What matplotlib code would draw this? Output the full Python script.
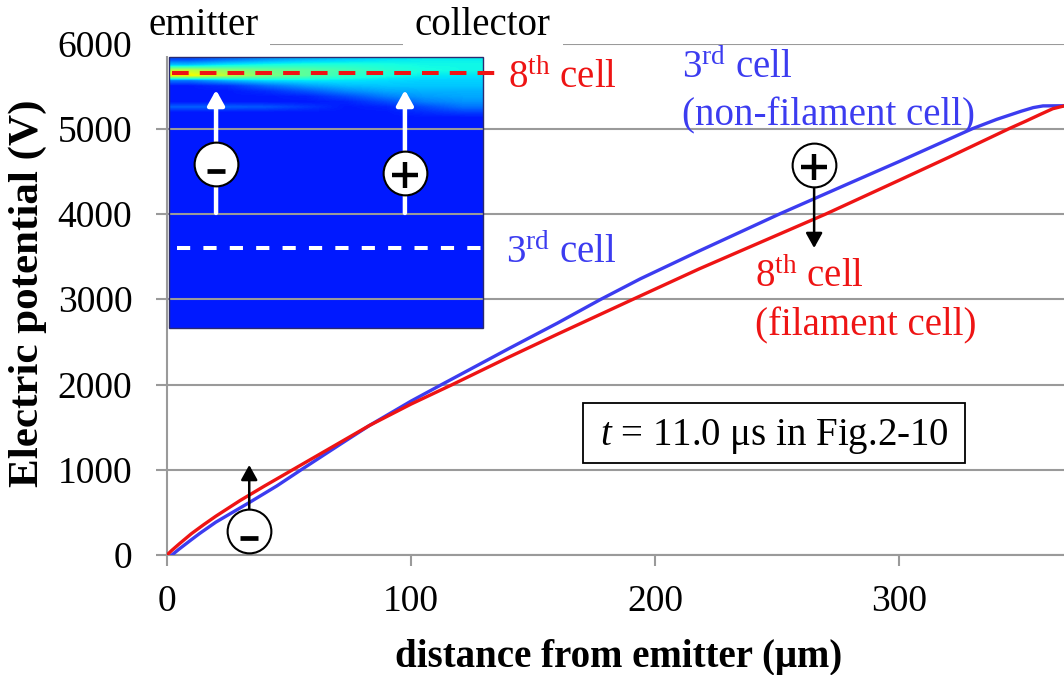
import numpy as np
import matplotlib
matplotlib.use('Agg')
import matplotlib.pyplot as plt
from matplotlib import transforms
from matplotlib.patches import Rectangle

plt.rcParams['font.family'] = ['Liberation Serif', 'DejaVu Serif']
plt.rcParams['mathtext.fontset'] = 'custom'
plt.rcParams['mathtext.rm'] = 'Liberation Serif'
plt.rcParams['mathtext.it'] = 'Liberation Serif:italic'
plt.rcParams['lines.scale_dashes'] = False

# potential along the 8th cell (filament cell)
dist_8th = [0, 2, 5, 10, 15, 20, 30, 40, 50, 60, 70, 83, 100, 117, 140, 160, 191, 218,
            245, 270, 300, 320, 345, 352, 358, 363, 368]
pot_8th = [0, 55, 130, 250, 355, 455, 640, 810, 975, 1140, 1305, 1520, 1770, 2000, 2320,
           2590, 3000, 3355, 3690, 4000, 4395, 4660, 5000, 5090, 5170, 5235, 5270]

# potential along the 3rd cell (non-filament cell)
dist_3rd = [2, 5, 10, 13.5, 20, 34, 45, 55, 70, 83, 100, 112.6, 140, 160, 177.5, 194, 218,
            251, 280, 300, 330, 340, 350, 355, 359, 368]
pot_3rd = [0, 70, 180, 255, 385, 620, 810, 1000, 1280, 1520, 1805, 2000, 2420, 2720, 2995,
           3240, 3565, 4000, 4365, 4615, 5000, 5110, 5205, 5248, 5268, 5270]

x_ticks = [0, 100, 200, 300]
y_ticks = [0, 1000, 2000, 3000, 4000, 5000, 6000]

# contour snapshot (jet scale 0..1), top strip of the inset, rows top -> bottom
field_top = [
    [0.20, 0.24, 0.28, 0.31, 0.33, 0.35, 0.36, 0.36],
    [0.32, 0.36, 0.38, 0.39, 0.39, 0.38, 0.37, 0.37],
    [0.58, 0.52, 0.48, 0.46, 0.43, 0.40, 0.38, 0.37],
    [0.66, 0.58, 0.50, 0.46, 0.41, 0.38, 0.36, 0.35],
    [0.24, 0.30, 0.34, 0.35, 0.35, 0.34, 0.33, 0.33],
    [0.15, 0.17, 0.23, 0.28, 0.31, 0.32, 0.32, 0.32],
    [0.15, 0.15, 0.17, 0.21, 0.26, 0.29, 0.30, 0.30],
    [0.15, 0.15, 0.15, 0.16, 0.20, 0.25, 0.28, 0.29],
    [0.15, 0.15, 0.15, 0.15, 0.16, 0.20, 0.25, 0.27],
    [0.22, 0.22, 0.21, 0.18, 0.15, 0.16, 0.20, 0.24],
    [0.15, 0.15, 0.15, 0.15, 0.15, 0.15, 0.17, 0.19],
    [0.15, 0.15, 0.15, 0.15, 0.15, 0.15, 0.15, 0.15],
]
field_base = 0.15
inset_x = (0.9, 129.7)
inset_v = (2659, 5100, 5838)  # bottom, end of strip, top

cell8_v = 5650
cell3_v = 3600
carrier_x = [20.1, 97.5]
carrier_v = [4587, 4485]
carrier_sign = ['-', '+']

RED = '#ee1414'
BLUE = '#3c3cf0'
GRID = '#9a9a9a'

W, H = 1064, 675


def fx(p):
    return p / W


def fy(p):
    return 1 - p / H


fig = plt.figure(figsize=(W / 100, H / 100), dpi=100)
ax = fig.add_axes([fx(167), fy(555), (W - 167) / W, (555 - 43.5) / H])

# inset field
cmap = plt.get_cmap('jet')
ax.add_patch(Rectangle((inset_x[0], inset_v[0]), inset_x[1] - inset_x[0],
                       inset_v[1] - inset_v[0], color=cmap(field_base), lw=0, zorder=0.4))
ax.imshow(np.array(field_top), cmap=cmap, vmin=0, vmax=1, interpolation='bilinear',
          extent=[inset_x[0], inset_x[1], inset_v[1], inset_v[2]], aspect='auto', zorder=0.5)
ax.add_patch(Rectangle((inset_x[0], inset_v[0]), inset_x[1] - inset_x[0],
                       inset_v[2] - inset_v[0], fill=False, ec='#2a2a70', lw=1, zorder=1.6))

ax.plot([2, 135.2], [cell8_v, cell8_v], color=RED, lw=2.9, dashes=(12, 8), zorder=4)
ax.plot([4, inset_x[1]], [cell3_v, cell3_v], color='white', lw=2.9, dashes=(9.5, 9.5), zorder=4)

for xc in carrier_x:
    ax.annotate('', xy=(xc, 5455), xytext=(xc, 4012),
                arrowprops=dict(arrowstyle='-|>,head_length=0.45,head_width=0.25',
                                color='white', lw=3.2, shrinkA=0, shrinkB=0,
                                mutation_scale=20), zorder=5)


def carrier(x, v, sign):
    ax.plot(x, v, 'o', ms=31.5, mfc='white', mec='black', mew=1.5, zorder=6)
    if sign == '-':
        tr = transforms.offset_copy(ax.transData, fig=fig, x=0, y=-5, units='points')
        ax.plot(x, v, '_', ms=13.5, mew=3.4, color='black', transform=tr, zorder=7)
    else:
        tr = transforms.offset_copy(ax.transData, fig=fig, x=0, y=-1.5, units='points')
        ax.plot(x, v, '+', ms=19, mew=3.2, color='black', transform=tr, zorder=7)


for xc, vc, s in zip(carrier_x, carrier_v, carrier_sign):
    carrier(xc, vc, s)

# potential curves
ax.plot(dist_3rd, pot_3rd, color=BLUE, lw=2.4, zorder=3)
ax.plot(dist_8th, pot_8th, color=RED, lw=2.4, zorder=3.1)

# carriers drifting on the curves
ax.annotate('', xy=(265.2, 3601), xytext=(265.2, 4575),
            arrowprops=dict(arrowstyle='-|>,head_length=0.45,head_width=0.25', color='black',
                            lw=1.8, shrinkA=0, shrinkB=0, mutation_scale=20), zorder=5)
ax.annotate('', xy=(33.7, 1056), xytext=(33.7, 285),
            arrowprops=dict(arrowstyle='-|>,head_length=0.45,head_width=0.25', color='black',
                            lw=1.8, shrinkA=0, shrinkB=0, mutation_scale=20), zorder=5)
carrier(265.2, 4575, '+')
carrier(33.7, 285, '-')

ax.set_xlim(0, 367.6)
ax.set_ylim(0, 6000)
ax.set_xticks(x_ticks)
ax.set_yticks(y_ticks)
ax.yaxis.grid(True, color=GRID, lw=1.5)
ax.xaxis.grid(False)
for s in ['top', 'right']:
    ax.spines[s].set_visible(False)
for s in ['left', 'bottom']:
    ax.spines[s].set_color(GRID)
    ax.spines[s].set_linewidth(1.5)
ax.tick_params(axis='both', color=GRID, labelcolor='black', length=8, width=1.5, labelsize=27)
ax.tick_params(axis='y', pad=17)
ax.tick_params(axis='x', pad=13)
ax.set_facecolor('none')

# labels
fig.text(fx(28), fy(293), 'Electric potential (V)', rotation=90, fontsize=31,
         fontweight='bold', ha='center', va='center')
fig.text(fx(619), fy(667), 'distance from emitter (\u03bcm)', fontsize=28,
         fontweight='bold', ha='center', va='baseline')

box = dict(boxstyle='square,pad=0.3', fc='white', ec='none')
fig.text(fx(148), fy(35), 'emitter', fontsize=28, va='baseline', bbox=box)
fig.text(fx(415), fy(35), 'collector', fontsize=28, va='baseline', bbox=box)

fig.text(fx(508), fy(88), r'8$^{\mathrm{th}}$ cell', color=RED, fontsize=28, va='baseline')
fig.text(fx(506), fy(263), r'3$^{\mathrm{rd}}$ cell', color=BLUE, fontsize=28, va='baseline')
fig.text(fx(682), fy(78), r'3$^{\mathrm{rd}}$ cell', color=BLUE, fontsize=28, va='baseline')
fig.text(fx(682), fy(125), '(non-filament cell)', color=BLUE, fontsize=28, va='baseline')
fig.text(fx(755), fy(287), r'8$^{\mathrm{th}}$ cell', color=RED, fontsize=28, va='baseline')
fig.text(fx(755), fy(335), '(filament cell)', color=RED, fontsize=28, va='baseline')

fig.text(fx(774), fy(445), '$t$ = 11.0 \u03bcs in Fig.2-10', fontsize=28, ha='center',
         va='baseline')
fig.add_artist(Rectangle((fx(583), fy(463)), 382 / W, 60 / H, transform=fig.transFigure,
                         fill=False, ec='black', lw=1.3))

fig.savefig('out.png', dpi=100)
